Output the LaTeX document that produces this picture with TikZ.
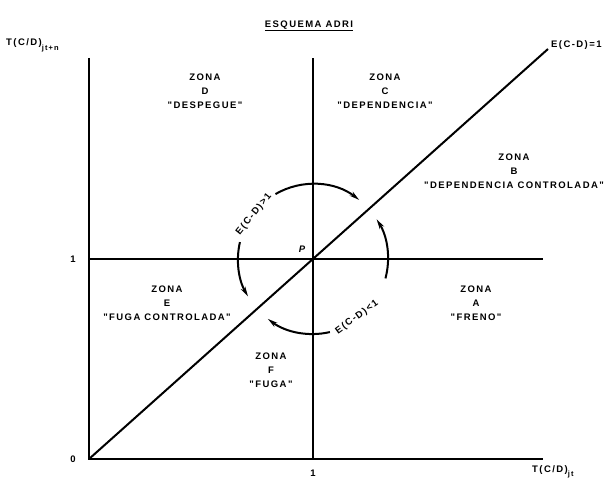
\documentclass[tikz,border=0pt]{standalone}
\usepackage{fontspec}
\newfontfamily\handfont{Liberation Sans}[LetterSpace=15]
\usetikzlibrary{arrows.meta,positioning}

\begin{document}
\begin{tikzpicture}[
    x=1pt, y=1pt,
    >={Stealth[length=10pt,width=5pt]},
    line/.style={line width=2pt, black},
    flow/.style={line width=2pt, ->},
    zone/.style={font=\handfont\bfseries\fontsize{9.5}{14}\selectfont, align=center, inner sep=0pt},
    lbl/.style={font=\handfont\bfseries\fontsize{9.5}{11}\selectfont, inner sep=0pt}
]
    \useasboundingbox (-89,-24) rectangle (517,459);

    % Frame points
    \coordinate (O) at (0,0);
    \coordinate (ytop) at (0,401);
    \coordinate (xend) at (454,0);
    \coordinate (P) at (224,200);
    \coordinate (vtop) at (224,401);
    \coordinate (vbot) at (224,0);
    \coordinate (hleft) at (0,200);
    \coordinate (hright) at (454,200);
    \coordinate (dend) at (459,410);

    % Axes, cross and diagonal
    \draw[line] (ytop) -- (O) -- (xend);
    \draw[line] (vbot) -- (vtop);
    \draw[line] (hleft) -- (hright);
    \draw[line] (O) -- (dend);

    % Labels on the axes
    \node[lbl] (title) at (220,433) {\underline{ESQUEMA ADRI}};
    \node[lbl, anchor=west] (ylbl) at (-83,414) {T(C/D)\raisebox{-5pt}{\fontsize{7.5}{8}\selectfont jt+n}};
    \node[lbl, anchor=west] (xlbl) at (443,-13) {T(C/D)\raisebox{-4pt}{\fontsize{7.5}{8}\selectfont jt}};
    \node[lbl, anchor=west] (elbl) at (462,414) {E(C-D)=1};
    \node[lbl] (zero) at (-16,0) {0};
    \node[lbl] (yone) at (-16,200) {1};
    \node[lbl] (xone) at (224,-14) {1};
    \node[lbl] (plbl) at (213,210) {\itshape P};

    % Zones
    \node[zone] (zoneD) at (116,368) {ZONA\\D\\"DESPEGUE"};
    \node[zone] (zoneC) at (296,368) {ZONA\\C\\"DEPENDENCIA"};
    \node[zone] (zoneB) at (425,288) {ZONA\\B\\"DEPENDENCIA CONTROLADA"};
    \node[zone] (zoneE) at (78,156) {ZONA\\E\\"FUGA CONTROLADA"};
    \node[zone] (zoneA) at (387,156) {ZONA\\A\\"FRENO"};
    \node[zone] (zoneF) at (182,89) {ZONA\\F\\"FUGA"};

    % Movement round P
    \draw[flow] ([shift={(120:75)}]P) arc[start angle=120, end angle=52, radius=75];
    \draw[flow] ([shift={(-15:75)}]P) arc[start angle=-15, end angle=32, radius=75];
    \draw[flow] ([shift={(-77:75)}]P) arc[start angle=-77, end angle=-127, radius=75];
    \draw[flow] ([shift={(167:75)}]P) arc[start angle=167, end angle=210, radius=75];
    \node[lbl, rotate=51] (egt) at ([shift={(143:74)}]P) {E(C-D)>1};
    \node[lbl, rotate=36] (elt) at ([shift={(-53:73)}]P) {E(C-D)<1};
\end{tikzpicture}
\end{document}
